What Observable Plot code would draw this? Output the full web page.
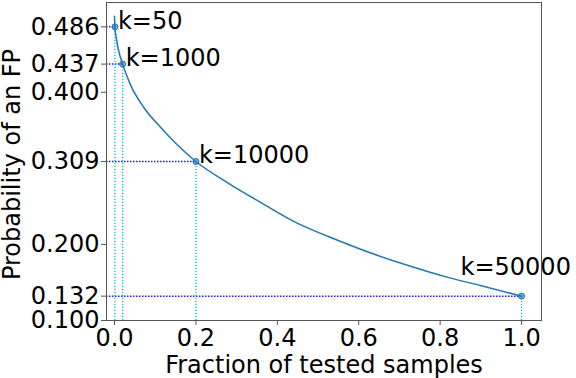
<!DOCTYPE html>
<html><head><meta charset="utf-8">
<script src="https://cdn.jsdelivr.net/npm/d3@7"></script>
<script src="https://cdn.jsdelivr.net/npm/@observablehq/plot@0.6"></script>
<style>body{margin:0;background:#fff} svg{display:block}</style>
</head><body><div id="chart"></div>
<script>
const fracs = [0, 0.001, 0.005, 0.01, 0.02, 0.039, 0.072, 0.113, 0.154, 0.2, 0.281, 0.363, 0.445, 0.527, 0.633, 0.735, 0.817, 0.899, 1.0];
const probs = [0.500, 0.486, 0.469, 0.455, 0.437, 0.410, 0.380, 0.354, 0.331, 0.309, 0.280, 0.254, 0.229, 0.210, 0.188, 0.170, 0.157, 0.146, 0.132];
const markerK = [50, 1000, 10000, 50000];
const markerFrac = [0.001, 0.02, 0.2, 1.0];
const markerProb = [0.486, 0.437, 0.309, 0.132];
const xTicks = [0, 0.2, 0.4, 0.6, 0.8, 1.0];
const yTicks = [0.100, 0.132, 0.200, 0.309, 0.400, 0.437, 0.486];
const xDomain = [-0.0197, 1.049];
const yDomain = [0.1, 0.518];
const xLabel = "Fraction of tested samples";
const yLabel = "Probability of an FP";

const curve = fracs.map((f, i) => ({f, p: probs[i]}));
const pts = markerK.map((k, i) => ({k, f: markerFrac[i], p: markerProb[i], label: `k=${k}`}));
const font = "'DejaVu Sans', sans-serif";

const plot = Plot.plot({
  width: 576, height: 378,
  marginLeft: 106, marginRight: 35, marginTop: 2, marginBottom: 58,
  style: {fontFamily: font, fontSize: "24px", background: "#fff", overflow: "visible", color: "#000"},
  x: {domain: xDomain},
  y: {domain: yDomain},
  marks: [
    Plot.ruleY(pts, {y: "p", x1: () => xDomain[0], x2: "f", stroke: "#1a1aff", strokeWidth: 1.5, strokeDasharray: "1.5,1.5"}),
    Plot.ruleX(pts, {x: "f", y1: () => yDomain[0], y2: "p", stroke: "#00c0c0", strokeWidth: 1.3, strokeDasharray: "1.3,1.7"}),
    Plot.line(curve, {x: "f", y: "p", stroke: "#1f77b4", strokeWidth: 1.5, curve: "monotone-x"}),
    Plot.dot(pts, {x: "f", y: "p", r: 3, fill: "#1f77b4", fillOpacity: 0.6, stroke: "#1f77b4", strokeWidth: 1}),
    Plot.text(pts.filter(d => d.k < 50000), {x: "f", y: "p", text: "label", textAnchor: "start", dx: 3, dy: -6}),
    Plot.text(pts.filter(d => d.k === 50000), {x: "f", y: "p", text: "label", textAnchor: "start", dx: -61, dy: -29}),
    Plot.axisX({ticks: xTicks, tickFormat: d3.format(".1f"), tickSize: 5, tickPadding: 3.5, label: null, stroke: "#555"}),
    Plot.axisY({ticks: yTicks, tickFormat: d3.format(".3f"), tickSize: 5, tickPadding: 2, label: null, stroke: "#555"}),
    Plot.frame({stroke: "#555"}),
    Plot.text([xLabel], {frameAnchor: "bottom", textAnchor: "middle", lineAnchor: "middle", dy: 45, text: d => d}),
    Plot.text([yLabel], {frameAnchor: "left", textAnchor: "middle", lineAnchor: "middle", dx: -94, dy: 3, rotate: -90, text: d => d})
  ]
});
document.getElementById("chart").appendChild(plot);
</script>
</body></html>
